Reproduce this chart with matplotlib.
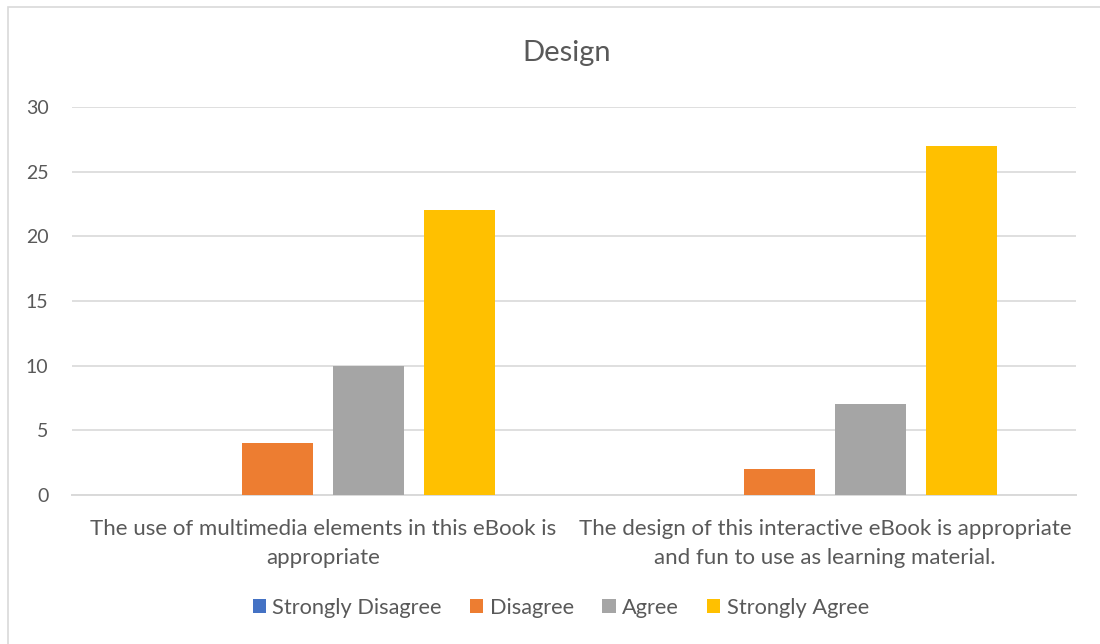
import numpy as np
import matplotlib.pyplot as plt
from matplotlib.patches import Rectangle

plt.rcParams['font.family'] = ['Lato', 'DejaVu Sans']

categories = ['The use of multimedia elements in this eBook is\nappropriate',
              'The design of this interactive eBook is appropriate\nand fun to use as learning material.']
series = ['Strongly Disagree', 'Disagree', 'Agree', 'Strongly Agree']
values = [[0, 0], [4, 2], [10, 7], [22, 27]]
colors = ['#4472C4', '#ED7D31', '#A5A5A5', '#FFC000']
yticks = [0, 5, 10, 15, 20, 25, 30]

text_color = '#595959'
grid_color = '#D9D9D9'

fig = plt.figure(figsize=(11, 6.44), dpi=100)
ax = fig.add_axes([0.0655, 0.2314, 0.9125, 0.6025])

x = np.arange(len(categories))
width = 0.1414
step = 0.181
for i, (name, vals, c) in enumerate(zip(series, values, colors)):
    ax.bar(x + (i - 1.5) * step, vals, width, color=c, label=name, zorder=3)

ax.set_xlim(-0.5, 1.5)
ax.set_ylim(0, 30)
ax.set_yticks(yticks)
ax.set_xticks(x)
ax.set_xticklabels(categories, fontsize=16, color=text_color, linespacing=1.6)
ax.tick_params(axis='y', labelsize=14, labelcolor=text_color, length=0, pad=17)
ax.tick_params(axis='x', length=0, pad=17)
ax.grid(axis='y', color=grid_color, linewidth=1.2, zorder=0)
for s in ['top', 'right', 'left']:
    ax.spines[s].set_visible(False)
ax.spines['bottom'].set_color(grid_color)
ax.spines['bottom'].set_linewidth(1.4)

fig.text(0.515, 0.918, 'Design', ha='center', va='center', fontsize=21, color=text_color)

fig.legend(loc='center', bbox_to_anchor=(0.51, 0.056), ncol=4, frameon=False,
           fontsize=15.7, labelcolor=text_color, handlelength=0.6, handleheight=0.6,
           handletextpad=0.3, columnspacing=1.3)

# chart area outline, running off the right and bottom edges
fig.patches.append(Rectangle((8 / 1100, -10 / 644), 1110 / 1100, 647 / 644,
                             transform=fig.transFigure, fill=False,
                             edgecolor=grid_color, linewidth=1.2))

fig.savefig('out.png', dpi=100)
